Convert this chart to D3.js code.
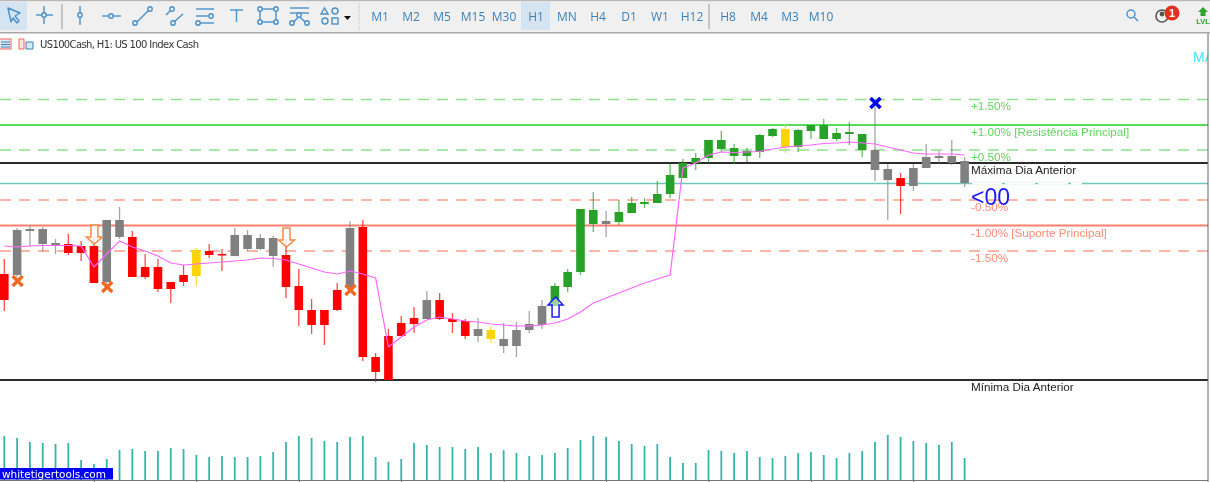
<!DOCTYPE html>
<html>
<head>
<meta charset="utf-8">
<script src="https://cdn.jsdelivr.net/npm/d3@7"></script>
<style>
  html, body { margin: 0; padding: 0; background: #fff; overflow: hidden; }
  svg { display: block; filter: blur(0.35px); }
  text { font-family: "Liberation Sans", Arial, sans-serif; }
</style>
</head>
<body>
<div id="wrapper"></div>
<script>
// candles (chart units, no price axis is visible)
const opens  = [126,170,171,171,157,156,154,154,180,180,163,133,133,118,125,150,149,146,165,165,162,162,145,114,90,90,110,172,173,43,64,77,82,100,100,81,79,71,70,61,70,76,94,94,113,128,176,179,178,187,196,197,206,222,237,242,251,244,244,248,264,253,253,269,261,261,266,250,250,231,222,232,243,244,244,239];
const closes = [100,125,169,156,155,147,147,117,118,163,123,123,111,111,118,124,145,145,144,151,151,144,113,90,75,75,90,112,43,28,20,64,76,81,81,78,64,64,61,54,54,70,75,114,128,191,190,176,188,197,198,206,225,237,242,260,260,252,249,265,271,271,270,275,275,267,268,266,230,220,214,214,232,242,237,217];
const highs  = [141,172,175,173,161,166,159,163,180,193,169,146,141,118,135,152,156,151,172,170,166,164,161,131,101,90,117,179,180,47,71,84,93,109,107,87,81,82,74,77,78,89,100,117,131,191,208,189,200,203,202,219,236,241,247,260,269,256,252,266,272,276,271,275,281,272,278,266,293,236,227,236,256,249,260,243];
const lows   = [89,123,153,148,146,145,139,117,115,161,123,121,108,97,114,114,142,129,144,149,150,133,102,74,66,55,89,112,39,18,20,64,67,81,80,67,61,58,57,47,43,67,71,94,108,125,168,163,175,187,192,197,202,222,230,237,248,236,238,242,263,247,248,261,261,259,255,243,219,180,186,209,232,237,235,213];
const kinds  = "rkkkkrrrkkrrrrryrrkkkkrrrrrkrrrrrkrrrkykkkkggggkgggggggggggggyggggggkkrkkkkk".split("");
const maLine = [154,153,154,154.5,154.5,154.5,154,133,146,159,153,149,144,137,135,136,137,138,139,140,142,141.5,140,136,132,128,126,129,126,122,53,63,73,80,83,81,79,78,76,75,74,74,75,77,81,88,97,102,107,112,117,121,125,232,237,245,248,247.5,248,248.5,251,253,254,255,256.5,257,258,257,256,253,250,247,246,246,246,245];
const volumes = [44,42,38,37,36,37,20,16,21,30,31,29,29,32,31,25,23,24,23,23,24,28,38,44,42,39,38,43,44,23,18,21,37,35,33,33,31,33,27,30,27,24,25,27,32,40,44,43,39,36,34,36,23,17,17,30,29,27,29,23,22,24,27,28,25,22,27,29,38,45,43,39,37,35,38,22];

const levelNames  = ["+1.50%","+1.00% [Resistência Principal]","+0.50%","Máxima Dia Anterior","-0.50%","-1.00% [Suporte Principal]","-1.50%","Mínima Dia Anterior"];
const levelValues = [300.5,275,250,237,200,174.5,149,20];
const levelKinds  = ["gd","gs","gd","b","rd","rs","rd","b"];
const currentLevel = 216.5;

const sellCrossIdx = [1,8,27];   const sellCrossVal = [119,113,110];
const downArrowIdx = [7,22];     const downArrowVal = [156,153];
const upArrowIdx   = [43];       const upArrowVal   = [103];
const topCrossIdx  = [68];       const topCrossVal  = [297];

const periods = ["M1","M2","M5","M15","M30","H1","MN","H4","D1","W1","H12","H8","M4","M3","M10"];
const periodX = [380,411,442,473,504,536,567,598,629,660,692,728,759,790,821];
const timeTicks = [7,15,23,31,39,47,55,63,71];

const colors = { r: "#ff0000", k: "#808080", g: "#27a127", y: "#ffd400" };
const lineStyles = {
  gd: { c: "#8fe08f", w: 1.4, dash: "11,8" },
  gs: { c: "#55dd55", w: 2,   dash: null },
  b:  { c: "#2b2b2b", w: 2.2, dash: null },
  rd: { c: "#ff9c8c", w: 1.4, dash: "11,8" },
  rs: { c: "#ff8070", w: 2,   dash: null }
};
const labelColor = { gd: "#62d462", gs: "#62d462", b: "#222", rd: "#ff8c7a", rs: "#ff8c7a" };

const width = 1210, height = 482;
const svg = d3.select("#wrapper").append("svg").attr("width", width).attr("height", height);

const x = d3.scaleLinear().domain([0, 75]).range([4.3, 964.6]);
const y = d3.scaleLinear().domain([0, 400]).range([400, 0]);
const v = d3.scaleLinear().domain([0, 45]).range([480, 435]);

svg.append("rect").attr("width", width).attr("height", height).attr("fill", "#fff");

// horizontal levels
svg.append("line").attr("x1", 0).attr("x2", 1208).attr("y1", y(currentLevel)).attr("y2", y(currentLevel))
  .attr("stroke", "#6cc8bf").attr("stroke-width", 1.4);
svg.append("line").attr("x1", 972).attr("x2", 1082).attr("y1", y(currentLevel)).attr("y2", y(currentLevel))
  .attr("stroke", "#fff").attr("stroke-width", 1.8).attr("stroke-dasharray", "30,3");

svg.selectAll(".level").data(levelValues).enter().append("line")
  .attr("class", "level")
  .attr("x1", 0).attr("x2", 1208)
  .attr("y1", d => y(d)).attr("y2", d => y(d))
  .attr("stroke", (d, i) => lineStyles[levelKinds[i]].c)
  .attr("stroke-width", (d, i) => lineStyles[levelKinds[i]].w)
  .attr("stroke-dasharray", (d, i) => lineStyles[levelKinds[i]].dash);

// candles
const idx = d3.range(opens.length);
const candle = svg.selectAll(".candle").data(idx).enter().append("g").attr("class", "candle");
candle.append("line")
  .attr("x1", i => x(i)).attr("x2", i => x(i))
  .attr("y1", i => y(highs[i])).attr("y2", i => y(lows[i]))
  .attr("stroke", i => colors[kinds[i]]).attr("stroke-width", 1.3).attr("opacity", 0.7);
candle.append("rect")
  .attr("x", i => x(i) - 4.3).attr("width", 8.6)
  .attr("y", i => y(Math.max(opens[i], closes[i])))
  .attr("height", i => Math.max(1.5, Math.abs(y(opens[i]) - y(closes[i]))))
  .attr("fill", i => colors[kinds[i]]);

// moving average
svg.append("path").datum(maLine)
  .attr("d", d3.line().x((d, i) => x(i)).y(d => y(d)))
  .attr("fill", "none").attr("stroke", "#ff66ff").attr("stroke-width", 1.2);

// signals
function cross(xs, ys, col, r, sw) {
  svg.selectAll(null).data(xs).enter().append("path")
    .attr("d", (d, i) => {
      const cx = x(d) + 0.5, cy = y(ys[i]);
      return `M${cx - r},${cy - r}L${cx + r},${cy + r}M${cx - r},${cy + r}L${cx + r},${cy - r}`;
    })
    .attr("stroke", col).attr("stroke-width", sw).attr("fill", "none");
}
cross(sellCrossIdx, sellCrossVal, "#f26a21", 5, 3.4);
cross(topCrossIdx, topCrossVal, "#0000ee", 5, 3.6);

svg.selectAll(".down").data(downArrowIdx).enter().append("path")
  .attr("class", "down")
  .attr("transform", (d, i) => `translate(${x(d) + 0.5},${y(downArrowVal[i])})`)
  .attr("d", "M-3.5,-19L3.5,-19L3.5,-7L8,-7L0,0L-8,-7L-3.5,-7Z")
  .attr("fill", "#fff").attr("fill-opacity", 0.75).attr("stroke", "#f58a45").attr("stroke-width", 1.5);

svg.selectAll(".up").data(upArrowIdx).enter().append("path")
  .attr("class", "up")
  .attr("transform", (d, i) => `translate(${x(d) + 0.7},${y(upArrowVal[i])})`)
  .attr("d", "M0,0L7.5,8L3.5,8L3.5,20L-3.5,20L-3.5,8L-7.5,8Z")
  .attr("fill", "#fff").attr("fill-opacity", 0.55).attr("stroke", "#1a1aff").attr("stroke-width", 1.5);

// level labels
svg.selectAll(".lab").data(levelNames).enter().append("text")
  .attr("class", "lab")
  .attr("x", 971)
  .attr("y", (d, i) => y(levelValues[i]) + (levelKinds[i] === "b" ? 11 : (i === 0 ? 10.5 : 11)))
  .attr("font-size", 11.7)
  .attr("fill", (d, i) => labelColor[levelKinds[i]])
  .text(d => d);

svg.append("text").attr("x", 971).attr("y", 205).attr("font-size", 23).attr("fill", "#1a1aff").text("<00");

// MA tag on the right edge, cut by the frame
svg.append("clipPath").attr("id", "edge").append("rect").attr("x", 1100).attr("y", 33).attr("width", 108).attr("height", 60);
svg.append("text").attr("clip-path", "url(#edge)").attr("x", 1193).attr("y", 62)
  .attr("font-size", 14).attr("fill", "#3fe6ff").text("MA");

// volume
svg.selectAll(".vol").data(volumes).enter().append("line")
  .attr("class", "vol")
  .attr("x1", (d, i) => x(i)).attr("x2", (d, i) => x(i))
  .attr("y1", d => v(d)).attr("y2", v(0))
  .attr("stroke", "#35b5a5").attr("stroke-width", 1.8);

// time axis, ticks only
const axis = svg.append("g").attr("transform", "translate(0,480.5)")
  .call(d3.axisBottom(x).tickValues(timeTicks).tickSize(3).tickFormat(""));
axis.select(".domain").remove();
axis.selectAll("line").attr("stroke", "#555");
svg.append("line").attr("x1", 0).attr("x2", 1208).attr("y1", 480.5).attr("y2", 480.5).attr("stroke", "#777").attr("stroke-width", 1);

// watermark
svg.append("rect").attr("x", 0).attr("y", 468).attr("width", 113).attr("height", 11.5).attr("fill", "#0000f0");
svg.append("text").attr("x", 2).attr("y", 477.5).attr("font-size", 10.5).attr("fill", "#fff")
  .attr("textLength", 104).style("font-family", "'DejaVu Sans'").text("whitetigertools.com");

// frame and toolbar
svg.append("line").attr("x1", 1208).attr("x2", 1208).attr("y1", 33).attr("y2", 482).attr("stroke", "#666");
const bar = svg.append("g");
bar.append("rect").attr("width", width).attr("height", 32).attr("fill", "#f0f0f0");
bar.append("rect").attr("width", width).attr("height", 1.2).attr("fill", "#b8b8b8");
bar.append("rect").attr("y", 32).attr("width", width).attr("height", 1.5).attr("fill", "#a8a8a8");
bar.append("rect").attr("x", 0).attr("y", 2).attr("width", 27).attr("height", 28).attr("fill", "#d5e4f2");
bar.append("rect").attr("x", 521).attr("y", 2).attr("width", 29).attr("height", 28).attr("fill", "#d5e4f2");

bar.selectAll(".tf").data(periods).enter().append("text")
  .attr("class", "tf")
  .attr("x", (d, i) => periodX[i]).attr("y", 21)
  .attr("text-anchor", "middle").attr("font-size", 12)
  .attr("fill", "#3d80b8").style("font-family", "'Open Sans'").text(d => d);

[[62, "#999"], [709, "#999"]].forEach(s => {
  bar.append("line").attr("x1", s[0]).attr("x2", s[0]).attr("y1", 4).attr("y2", 29).attr("stroke", s[1]);
});
bar.append("line").attr("x1", 359).attr("x2", 359).attr("y1", 3).attr("y2", 30)
  .attr("stroke", "#bbb").attr("stroke-dasharray", "1,1");

const icons = bar.append("g").attr("fill", "none").attr("stroke", "#4a90c8").attr("stroke-width", 1.4);
function seg(a, b, c, d) { icons.append("line").attr("x1", a).attr("y1", b).attr("x2", c).attr("y2", d); }
function dot(a, b, r) { icons.append("circle").attr("cx", a).attr("cy", b).attr("r", r || 2.2).attr("fill", "#f0f0f0"); }

icons.append("path").attr("d", "M8,8L20,13L15,16L19,21L17,23L13,18L11,22Z").attr("stroke-linejoin", "round");
seg(44, 6, 44, 24); seg(36, 15, 53, 15); dot(44, 15);
seg(80, 6, 80, 25); dot(80, 15);
seg(102, 16, 121, 16); dot(111, 16);
seg(136, 23, 149, 10); dot(135, 23); dot(150, 9);
seg(166, 15, 170, 11); seg(174, 22, 183, 14); dot(172, 9); dot(173, 23);
seg(196, 9, 214, 9); seg(196, 16, 208, 16); seg(199, 23, 214, 23); dot(198, 23); dot(211, 16);
seg(230, 10, 243, 10); seg(236.5, 10, 236.5, 22);
icons.append("rect").attr("x", 260).attr("y", 9).attr("width", 16).attr("height", 13);
dot(260, 9); dot(276, 9); dot(260, 22); dot(276, 22);
seg(290, 8, 309, 8); seg(290, 13, 309, 13); seg(293, 23, 299, 16); seg(299, 16, 306, 23); dot(292, 23); dot(299, 15); dot(307, 23);
icons.append("path").attr("d", "M321,14L324.5,8L328,14Z");
icons.append("circle").attr("cx", 335).attr("cy", 11).attr("r", 3);
icons.append("circle").attr("cx", 325).attr("cy", 21).attr("r", 3);
icons.append("rect").attr("x", 332).attr("y", 18).attr("width", 6).attr("height", 6);
bar.append("path").attr("d", "M344,16L351,16L347.5,20Z").attr("fill", "#111");

icons.append("circle").attr("cx", 1131).attr("cy", 14).attr("r", 4);
seg(1134, 17, 1138, 21);
bar.append("circle").attr("cx", 1162).attr("cy", 16).attr("r", 6).attr("fill", "none").attr("stroke", "#555").attr("stroke-width", 1.6);
bar.append("circle").attr("cx", 1162).attr("cy", 14).attr("r", 2.4).attr("fill", "#555");
bar.append("circle").attr("cx", 1172).attr("cy", 13).attr("r", 7.5).attr("fill", "#e0301e");
bar.append("text").attr("x", 1172).attr("y", 17).attr("text-anchor", "middle").attr("font-size", 11)
  .attr("font-weight", "bold").attr("fill", "#fff").text("1");
bar.append("path").attr("d", "M1203,7L1208,12L1205.5,12L1205.5,16L1200.5,16L1200.5,12L1198,12Z").attr("fill", "#2aa52a");
bar.append("text").attr("x", 1203).attr("y", 24).attr("text-anchor", "middle").attr("font-size", 7.5)
  .attr("font-weight", "bold").attr("fill", "#2aa52a").text("LVL");

// chart caption
const cap = svg.append("g");
cap.append("rect").attr("x", -3).attr("y", 39).attr("width", 14).attr("height", 10).attr("fill", "#dbe9f7").attr("stroke", "#f06a5a");
cap.append("path").attr("d", "M1,42H10M1,44.5H10M1,47H10").attr("stroke", "#3d80b8");
cap.append("path").attr("d", "M19,39H24V49H19Z").attr("fill", "#fde3e0").attr("stroke", "#f06a5a");
cap.append("path").attr("d", "M26,42H33V49H26Z").attr("fill", "#d8e8f6").attr("stroke", "#3d80b8");
cap.append("text").attr("x", 40).attr("y", 48).attr("font-size", 10).attr("fill", "#333")
  .style("font-family", "'DejaVu Sans'").attr("textLength", 159).text("US100Cash, H1:  US 100 Index Cash");
</script>
</body>
</html>
